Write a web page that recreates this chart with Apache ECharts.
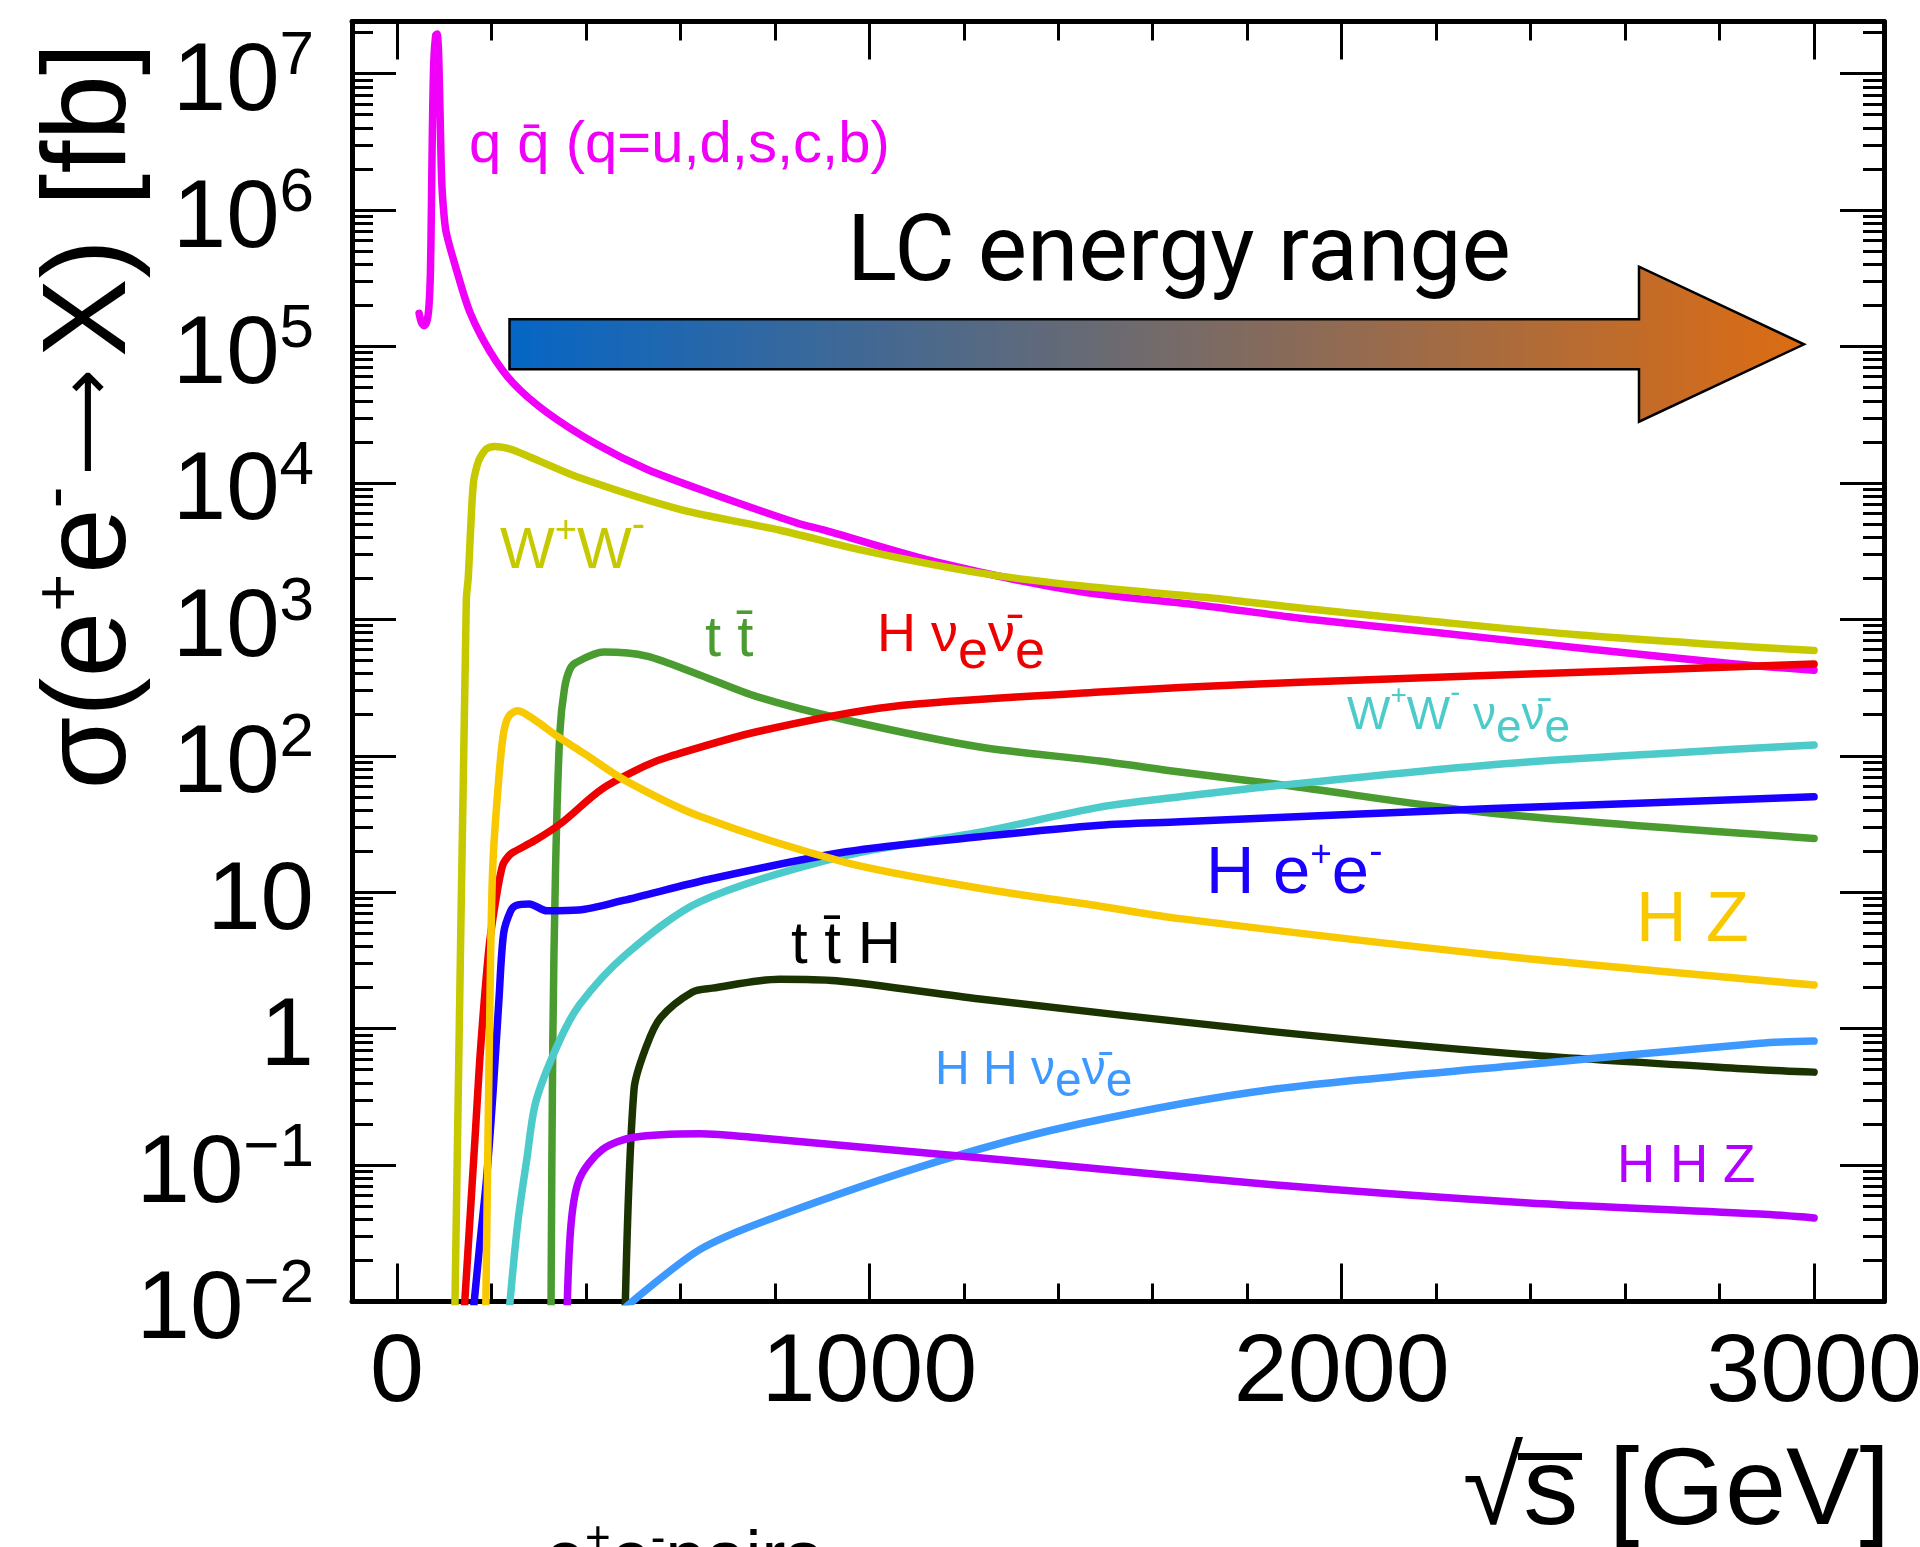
<!DOCTYPE html>
<html>
<head>
<meta charset="utf-8">
<script src="https://cdn.jsdelivr.net/npm/echarts@6/dist/echarts.min.js"></script>
<style>
html,body{margin:0;padding:0;background:#ffffff;}
#chart{width:1920px;height:1547px;}
</style>
</head>
<body>
<div id="chart"></div>
<script>
// ---------- axis ticks / labels ----------
const xTickMajor = [0, 1000, 2000, 3000];
const xTickLabels = ['0', '1000', '2000', '3000'];
const xTickMinor = [200, 400, 600, 800, 1200, 1400, 1600, 1800, 2200, 2400, 2600, 2800];
const yTickMajor = [0.01, 0.1, 1, 10, 100, 1e3, 1e4, 1e5, 1e6, 1e7];
const yTickBase  = ['10', '10', '1', '10', '10', '10', '10', '10', '10', '10'];
const yTickExp   = ['\u22122', '\u22121', '', '', '2', '3', '4', '5', '6', '7'];
const yMinorMult = [2, 3, 4, 5, 6, 7, 8, 9];

// ---------- cross sections  [sqrt(s) GeV, sigma fb] ----------
const qqbar = [[47,1.75e5],[52,1.5e5],[58,1.42e5],[64,1.55e5],[68,2.0e5],[71,3.5e5],[73,1.0e6],[75,3.5e6],[78,1.2e7],[82,1.9e7],[85,1.95e7],[88,1.5e7],[91,6e6],[95,1.6e6],[100,9e5],[105,6.7e5],[126,3.66e5],[155,1.77e5],[197,9.2e4],[246,5.4e4],[317,3.3e4],[423,1.92e4],[529,1.26e4],[669,8.3e3],[846,5.1e3],[905,4.5e3],[1148,2.6e3],[1446,1.6e3],[1700,1.27e3],[1912,1.02e3],[2200,8.0e2],[2498,6.2e2],[2833,4.7e2],[3000,4.24e2]];
const ww = [[122,0.006],[147,1.4e3],[151,2.0e3],[156,4.5e3],[162,1.0e4],[170,1.35e4],[177,1.55e4],[190,1.78e4],[207,1.85e4],[225,1.82e4],[246,1.74e4],[301,1.45e4],[387,1.09e4],[599,6.4e3],[811,4.5e3],[987,3.2e3],[1229,2.2e3],[1446,1.76e3],[1752,1.4e3],[1912,1.21e3],[2200,9.6e2],[2498,7.7e2],[2800,6.5e2],[3000,5.9e2]];
const ttbar = [[326,0.006],[330,0.77],[336,15.5],[345,148],[355,315],[366,430],[379,482],[438,576],[529,538],[641,391],[762,271],[951,183],[1234,116],[1488,91.5],[1658,76],[1876,61],[2319,37.9],[3000,24.8]];
const hnn = [[142,0.008],[166,0.17],[177,0.7],[195,3.9],[210,9],[224,15.8],[237,18.5],[247,19.7],[292,23.9],[348,32.1],[434,57],[529,85.5],[574,98],[762,150],[1046,229],[1488,293],[1658,316],[1912,346],[2319,389],[3000,470]];
const wwnn = [[237,0.008],[256,0.038],[275,0.11],[294,0.29],[341,0.77],[387,1.5],[483,3.45],[641,8.5],[951,18.6],[1234,27.5],[1488,42],[1658,50],[1875,61],[2319,86],[2700,105],[3000,120]];
const hee = [[161,0.008],[175,0.025],[190,0.081],[204,0.36],[216,1.62],[226,5.0],[241,7.3],[252,8.0],[280,8.2],[318,7.3],[385,7.4],[479,8.7],[668,12.6],[951,19.8],[1234,25.5],[1488,31],[1658,32.8],[2319,41],[3000,50]];
const hz = [[188,0.008],[197,1.6],[203,15.5],[216,70],[226,148],[237,195],[256,214],[270,205],[300,175],[341,138],[400,102],[483,66],[641,36],[951,16.5],[1234,10.7],[1488,7.9],[1658,6.4],[2319,3.47],[3000,2.09]];
const tth = [[483,0.008],[502,0.36],[528,0.74],[558,1.2],[625,1.85],[668,1.98],[810,2.3],[930,2.24],[1234,1.65],[1848,0.955],[2388,0.645],[2886,0.5],[3000,0.48]];
const hhnn = [[483,0.009],[641,0.024],[796,0.041],[1147,0.107],[1444,0.2],[1848,0.357],[2388,0.543],[2886,0.78],[3000,0.81]];
const hhz = [[360,0.008],[369,0.038],[387,0.08],[435,0.13],[502,0.16],[641,0.17],[769,0.158],[1308,0.107],[1848,0.072],[2388,0.053],[2886,0.0437],[3000,0.041]];

const FF = '"Liberation Sans", Arial, Helvetica, sans-serif';

// minor log ticks (2..9 x 10^k)
const yTickMinor = [];
for (let k = -2; k <= 7; k++) {
  yMinorMult.forEach(m => { const v = m * Math.pow(10, k); if (v < 2.41e7) yTickMinor.push(v); });
}

function yLabel(v) {
  const lv = Math.log10(v);
  const i = yTickMajor.findIndex(t => Math.abs(Math.log10(t) - lv) < 1e-6);
  if (i < 0) return '';
  return yTickExp[i] ? '{b|' + yTickBase[i] + '}{s|' + yTickExp[i] + '}' : '{b|' + yTickBase[i] + '}';
}
function xLabel(v) {
  const i = xTickMajor.indexOf(Math.round(v));
  return i < 0 ? '' : xTickLabels[i];
}

const XMIN = -95, XMAX = 3148, YMIN = 0.01, YMAX = 2.41e7;

function xAx(pos, ticks, len, line, labels) {
  return {
    type: 'value', position: pos, min: XMIN, max: XMAX, gridIndex: 0,
    axisLine: { show: line, onZero: false, lineStyle: { color: '#000', width: 5 } },
    axisTick: { show: true, inside: true, length: len, customValues: ticks, lineStyle: { color: '#000', width: 3 } },
    axisLabel: labels ? { show: true, customValues: xTickMajor, formatter: xLabel, margin: 24, color: '#000', fontSize: 97, fontFamily: FF } : { show: false },
    splitLine: { show: false }, minorTick: { show: false }
  };
}
function yAx(pos, ticks, len, line, labels) {
  return {
    type: 'log', logBase: 10, position: pos, min: YMIN, max: YMAX, gridIndex: 0,
    axisLine: { show: line, onZero: false, lineStyle: { color: '#000', width: 5 } },
    axisTick: { show: true, inside: true, length: len, customValues: ticks, lineStyle: { color: '#000', width: 3 } },
    axisLabel: labels ? {
      show: true, customValues: yTickMajor, formatter: yLabel, margin: 38, padding: [20, 0, 0, 0],
      rich: {
        b: { fontSize: 96, lineHeight: 96, height: 96, verticalAlign: 'top', fontFamily: FF, color: '#000' },
        s: { fontSize: 62, lineHeight: 43, height: 43, verticalAlign: 'top', fontFamily: FF, color: '#000' }
      }
    } : { show: false },
    splitLine: { show: false }, minorTick: { show: false }
  };
}

function line(name, data, color) {
  return {
    name: name, type: 'line', data: data, xAxisIndex: 0, yAxisIndex: 0,
    showSymbol: false, symbol: 'none', smooth: 0.3, clip: true,
    lineStyle: { color: color, width: 7.5, cap: 'round', join: 'round' }, itemStyle: { color: color },
    emphasis: { disabled: true }
  };
}

// rich token: h = box height; 'top' raises, 'bottom' lowers a token relative to the line centre
function tok(fs, color, h, va, family) {
  const o = { fontSize: fs, fontFamily: family || FF, fill: color, color: color };
  if (h !== undefined) { o.lineHeight = h; o.height = h; o.verticalAlign = va; }
  return o;
}
function label(x, y, text, rich, color) {
  return {
    type: 'text', x: x, y: y, z: 100,
    style: { text: text, rich: rich, fill: color, align: 'left', verticalAlign: 'middle', textAlign: 'left', textVerticalAlign: 'middle' }
  };
}

const cMag = '#f000f8', cOl = '#c6c800', cGr = '#4a9b30', cRed = '#ee0000', cTeal = '#4dcaca',
      cBlue = '#1a00ff', cGold = '#f8c800', cDk = '#1a3300', cLb = '#3d99ff', cPur = '#b400ff';

const option = {
  animation: false,
  backgroundColor: '#ffffff',
  grid: { left: 352, right: 36, top: 21.5, bottom: 245.5, containLabel: false, outerBoundsMode: 'none', show: false },
  xAxis: [
    xAx('bottom', xTickMajor, 38, true, true),
    xAx('bottom', xTickMinor, 18, false, false),
    xAx('top', xTickMajor, 38, true, false),
    xAx('top', xTickMinor, 19, false, false)
  ],
  yAxis: [
    yAx('left', yTickMajor, 44, true, true),
    yAx('left', yTickMinor, 21, false, false),
    yAx('right', yTickMajor, 44, true, false),
    yAx('right', yTickMinor, 21, false, false)
  ],
  series: [
    line('q q\u0304', qqbar, cMag),
    line('W+W-', ww, cOl),
    line('t t\u0304', ttbar, cGr),
    line('H nu nu', hnn, cRed),
    line('W+W- nu nu', wwnn, cTeal),
    line('H e+e-', hee, cBlue),
    line('H Z', hz, cGold),
    line('t t H', tth, cDk),
    line('H H nu nu', hhnn, cLb),
    line('H H Z', hhz, cPur)
  ],
  graphic: [
    // LC energy range arrow
    {
      type: 'polygon', z: 50,
      shape: { points: [[509.5,319.3],[1639,319.3],[1639,266.7],[1804,344.3],[1639,421.7],[1639,369.3],[509.5,369.3]] },
      style: {
        stroke: '#000', lineWidth: 2.5,
        fill: { type: 'linear', x: 0, y: 0, x2: 1, y2: 0, global: false,
          colorStops: [ { offset: 0, color: '#0566c6' }, { offset: 0.45, color: '#686a74' }, { offset: 1, color: '#dd6c12' } ] }
      }
    },
    { type: 'text', x: 847, y: 257, z: 60,
      style: { text: 'LC energy range', fontSize: 93, fontFamily: 'Roboto, "Liberation Sans", sans-serif', fill: '#000', align: 'left', verticalAlign: 'middle', textAlign: 'left', textVerticalAlign: 'middle' } },
    // curve labels
    label(469, 146, '{m|q q\u0304 (q=u,d,s,c,b)}', { m: tok(58, cMag) }, cMag),
    label(500, 552, '{m|W}{p|+}{m|W}{n|-}', { m: tok(58, cOl, 58, 'top'), p: tok(38, cOl, 18, 'top'), n: tok(40, cOl, 5, 'top') }, cOl),
    label(705, 640, '{m|t t\u0304}', { m: tok(58, cGr) }, cGr),
    label(877, 636, '{m|H \u03bd}{d|e}{m|\u03bd\u0304}{d|e}', { m: tok(54, cRed, 54, 'top'), d: tok(54, cRed, 20, 'bottom') }, cRed),
    label(1347, 716, '{m|W}{p|+}{m|W}{n|-}{m| \u03bd}{d|e}{m|\u03bd\u0304}{d|e}', { m: tok(46, cTeal, 46, 'top'), p: tok(28, cTeal, 7, 'top'), n: tok(30, cTeal, 2, 'top'), d: tok(46, cTeal, 20, 'bottom') }, cTeal),
    label(1206, 875, '{m|H e}{p|+}{m|e}{n|-}', { m: tok(67, cBlue, 67, 'top'), p: tok(37, cBlue, 28, 'top'), n: tok(40, cBlue, 22, 'top') }, cBlue),
    label(1636, 922, '{m|H Z}', { m: tok(70, cGold) }, cGold),
    label(791, 946, '{m|t t\u0304 H}', { m: tok(60, '#000') }, '#000'),
    label(935, 1071, '{m|H H \u03bd}{d|e}{m|\u03bd\u0304}{d|e}', { m: tok(48, cLb, 48, 'top'), d: tok(48, cLb, 24, 'bottom') }, cLb),
    label(1617, 1167, '{m|H H Z}', { m: tok(53, cPur) }, cPur),
    // axis titles
    {
      type: 'text', x: 92, y: 416, rotation: Math.PI / 2, z: 100,
      style: {
        text: '{m|\u03c3(e}{p|+}{m|e}{n|-}{g| }{a|\u27f6}{g| }{m|X) [fb]}',
        rich: { m: tok(118, '#000', 118, 'top'), p: tok(65, '#000', 58, 'top'), n: tok(65, '#000', 50, 'top'),
                g: tok(42, '#000', 118, 'top'),
                a: tok(74, '#000', 118, 'top', '"DejaVu Sans", "Noto Sans CJK SC", sans-serif') },
        align: 'center', verticalAlign: 'middle', textAlign: 'center', textVerticalAlign: 'middle', fill: '#000'
      }
    },
    { type: 'text', x: 1890, y: 1494, z: 100,
      style: { text: '\u221as\u0305 [GeV]', fontSize: 110, fontFamily: FF, fill: '#000', align: 'right', verticalAlign: 'middle', textAlign: 'right', textVerticalAlign: 'middle' } },
    { type: 'text', x: 545, y: 1561, z: 100,
      style: { text: '{m|e}{p|+}{m|e}{n|-}{m|pairs}', rich: { m: tok(72, '#000', 72, 'top'), p: tok(44, '#000', 30, 'top'), n: tok(44, '#000', 30, 'top') }, fill: '#000', align: 'left', verticalAlign: 'middle', textAlign: 'left', textVerticalAlign: 'middle' } }
  ]
};

const chart = echarts.init(document.getElementById('chart'), null, { renderer: 'canvas', width: 1920, height: 1547 });
chart.setOption(option);
</script>
</body>
</html>
